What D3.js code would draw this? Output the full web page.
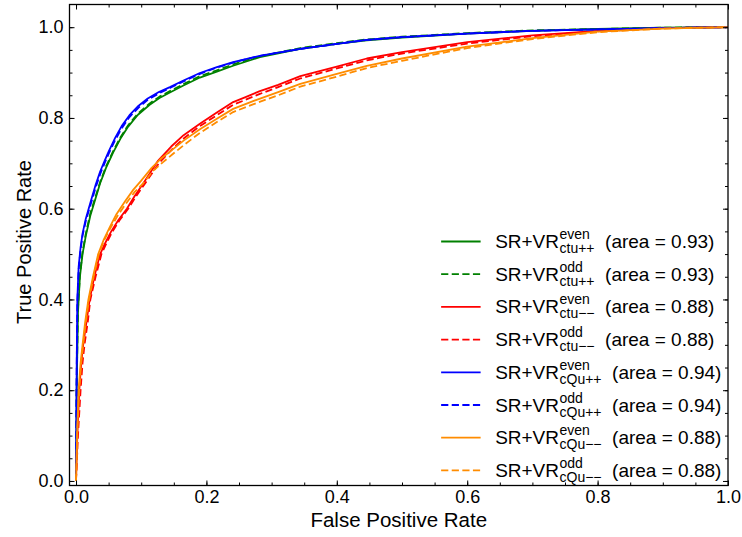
<!DOCTYPE html>
<html>
<head>
<meta charset="utf-8">
<script src="https://cdn.jsdelivr.net/npm/d3@7"></script>
<style>
  body { margin: 0; background: #fff; }
  text { font-family: "Liberation Sans", Arial, Helvetica, sans-serif; fill: #000; }
</style>
</head>
<body>
<svg id="chart" width="742" height="537"></svg>
<script>
// ROC curves, [fpr, tpr] pairs
const ctuPPEven = [[0,0],[0.001,0.2],[0.003,0.37],[0.006,0.45],[0.01,0.5],[0.015,0.54],[0.022,0.585],[0.029,0.618],[0.037,0.656],[0.046,0.69],[0.057,0.724],[0.068,0.754],[0.08,0.781],[0.095,0.807],[0.113,0.829],[0.128,0.844],[0.144,0.856],[0.164,0.871],[0.19,0.889],[0.216,0.902],[0.241,0.915],[0.282,0.934],[0.344,0.952],[0.4,0.963],[0.446,0.971],[0.5,0.977],[0.6,0.986],[0.7,0.992],[0.8,0.996],[0.9,0.999],[1,1]];
const ctuPPOdd  = [[0,0],[0.001,0.21],[0.003,0.38],[0.006,0.455],[0.01,0.505],[0.015,0.545],[0.022,0.59],[0.029,0.622],[0.037,0.659],[0.046,0.693],[0.057,0.727],[0.068,0.757],[0.08,0.784],[0.095,0.81],[0.113,0.832],[0.128,0.847],[0.144,0.859],[0.164,0.874],[0.19,0.892],[0.216,0.905],[0.241,0.918],[0.282,0.936],[0.344,0.954],[0.4,0.965],[0.446,0.973],[0.5,0.979],[0.6,0.987],[0.7,0.993],[0.8,0.996],[0.9,0.999],[1,1]];
const ctuMMEven = [[0,0],[0.002,0.1],[0.005,0.2],[0.008,0.26],[0.011,0.3],[0.016,0.35],[0.021,0.4],[0.028,0.45],[0.037,0.5],[0.045,0.525],[0.054,0.55],[0.065,0.575],[0.078,0.6],[0.09,0.628],[0.105,0.66],[0.126,0.706],[0.146,0.737],[0.165,0.762],[0.19,0.787],[0.216,0.812],[0.241,0.835],[0.26,0.846],[0.282,0.859],[0.31,0.873],[0.344,0.892],[0.4,0.913],[0.446,0.931],[0.5,0.945],[0.6,0.967],[0.7,0.982],[0.8,0.992],[0.9,0.998],[1,1]];
const ctuMMOdd  = [[0,0],[0.003,0.1],[0.007,0.2],[0.01,0.26],[0.013,0.3],[0.018,0.35],[0.022,0.4],[0.03,0.45],[0.039,0.5],[0.047,0.525],[0.056,0.55],[0.067,0.575],[0.08,0.6],[0.092,0.627],[0.107,0.658],[0.128,0.702],[0.148,0.732],[0.167,0.757],[0.19,0.782],[0.216,0.806],[0.241,0.829],[0.26,0.84],[0.282,0.853],[0.31,0.868],[0.344,0.887],[0.4,0.909],[0.446,0.927],[0.5,0.942],[0.6,0.964],[0.7,0.98],[0.8,0.991],[0.9,0.998],[1,1]];
const cQuPPEven = [[0,0],[0.001,0.25],[0.002,0.4],[0.004,0.472],[0.007,0.515],[0.01,0.545],[0.015,0.578],[0.023,0.618],[0.03,0.652],[0.037,0.682],[0.044,0.706],[0.05,0.726],[0.06,0.756],[0.07,0.782],[0.082,0.806],[0.096,0.827],[0.11,0.843],[0.127,0.857],[0.144,0.868],[0.164,0.882],[0.19,0.899],[0.216,0.912],[0.241,0.923],[0.282,0.937],[0.344,0.952],[0.4,0.963],[0.446,0.972],[0.5,0.978],[0.6,0.986],[0.7,0.992],[0.8,0.995],[0.9,0.998],[1,1]];
const cQuPPOdd  = [[0,0],[0.001,0.24],[0.002,0.39],[0.004,0.465],[0.007,0.51],[0.01,0.54],[0.015,0.573],[0.023,0.612],[0.03,0.646],[0.037,0.676],[0.044,0.701],[0.05,0.721],[0.06,0.751],[0.07,0.777],[0.082,0.802],[0.096,0.823],[0.11,0.84],[0.127,0.854],[0.144,0.866],[0.164,0.88],[0.19,0.897],[0.216,0.911],[0.241,0.922],[0.282,0.937],[0.344,0.952],[0.4,0.963],[0.446,0.972],[0.5,0.978],[0.6,0.986],[0.7,0.992],[0.8,0.995],[0.9,0.998],[1,1]];
const cQuMMEven = [[0,0],[0.002,0.12],[0.004,0.2],[0.007,0.26],[0.01,0.3],[0.014,0.35],[0.019,0.4],[0.026,0.45],[0.034,0.5],[0.042,0.53],[0.052,0.56],[0.062,0.588],[0.075,0.616],[0.088,0.642],[0.1,0.662],[0.116,0.69],[0.13,0.71],[0.146,0.728],[0.165,0.75],[0.19,0.775],[0.216,0.798],[0.241,0.82],[0.277,0.84],[0.31,0.857],[0.344,0.875],[0.4,0.897],[0.446,0.915],[0.5,0.931],[0.6,0.957],[0.7,0.976],[0.8,0.99],[0.9,0.997],[1,1]];
const cQuMMOdd  = [[0,0],[0.002,0.11],[0.005,0.2],[0.008,0.26],[0.011,0.3],[0.015,0.35],[0.02,0.4],[0.027,0.45],[0.035,0.5],[0.043,0.53],[0.053,0.558],[0.064,0.585],[0.077,0.612],[0.09,0.637],[0.103,0.656],[0.118,0.683],[0.133,0.702],[0.148,0.72],[0.167,0.742],[0.19,0.767],[0.216,0.791],[0.241,0.813],[0.277,0.833],[0.31,0.85],[0.344,0.869],[0.4,0.891],[0.446,0.91],[0.5,0.926],[0.6,0.954],[0.7,0.974],[0.8,0.989],[0.9,0.997],[1,1]];

const seriesData = [ctuPPEven, ctuPPOdd, ctuMMEven, ctuMMOdd, cQuPPEven, cQuPPOdd, cQuMMEven, cQuMMOdd];
const seriesColors = ['#008000', '#008000', '#ff0000', '#ff0000', '#0000ff', '#0000ff', '#ff8c00', '#ff8c00'];
const seriesDashed = [false, true, false, true, false, true, false, true];
const seriesSup = ['even', 'odd', 'even', 'odd', 'even', 'odd', 'even', 'odd'];
const seriesSub = ['ctu++', 'ctu++', 'ctu\u2212\u2212', 'ctu\u2212\u2212', 'cQu++', 'cQu++', 'cQu\u2212\u2212', 'cQu\u2212\u2212'];
const seriesArea = ['0.93', '0.93', '0.88', '0.88', '0.94', '0.94', '0.88', '0.88'];

const xTicks = [0.0, 0.2, 0.4, 0.6, 0.8, 1.0];
const yTicks = [0.0, 0.2, 0.4, 0.6, 0.8, 1.0];

const svg = d3.select('#chart');
const margin = { left: 69.5, right: 14, top: 4.5, bottom: 51.5 };
const width = 742 - margin.left - margin.right;
const height = 537 - margin.top - margin.bottom;

const g = svg.append('g').attr('transform', `translate(${margin.left},${margin.top})`);

const x = d3.scaleLinear().domain([-0.01, 1.0]).range([0, width]);
const y = d3.scaleLinear().domain([-0.01, 1.05]).range([height, 0]);

g.append('clipPath').attr('id', 'clip')
    .append('rect').attr('width', width).attr('height', height);

// curves
const line = d3.line().x(d => x(d[0])).y(d => y(d[1]));
const curves = g.append('g').attr('clip-path', 'url(#clip)');
seriesData.forEach((data, i) => {
    curves.append('path')
        .datum(data)
        .attr('d', line)
        .style('fill', 'none')
        .style('stroke', seriesColors[i])
        .style('stroke-width', 1.8)
        .style('stroke-linejoin', 'round')
        .style('stroke-dasharray', seriesDashed[i] ? '7.2,3.4' : null);
});

// axes: ticks inward on all four sides
const minorX = d3.range(0, 1.0001, 0.05);
const minorY = d3.range(0, 1.0001, 0.05);
function styleAxis(sel) {
    sel.select('.domain').remove();
    sel.selectAll('line').style('stroke', '#000').style('stroke-width', 1);
    sel.selectAll('text').style('font-size', '18px').style('font-family', '"Liberation Sans", Arial, sans-serif');
}
const fmt = d3.format('.1f');
g.append('g').attr('transform', `translate(0,${height})`)
    .call(d3.axisBottom(x).tickValues(minorX).tickSize(-3).tickFormat(''))
    .call(styleAxis);
g.append('g').attr('transform', `translate(0,${height})`)
    .call(d3.axisBottom(x).tickValues(xTicks).tickSize(-5).tickPadding(5).tickFormat(fmt))
    .call(styleAxis);
g.append('g')
    .call(d3.axisTop(x).tickValues(minorX).tickSize(-3).tickFormat(''))
    .call(styleAxis);
g.append('g')
    .call(d3.axisTop(x).tickValues(xTicks).tickSize(-5).tickFormat(''))
    .call(styleAxis);
g.append('g')
    .call(d3.axisLeft(y).tickValues(minorY).tickSize(-3).tickFormat(''))
    .call(styleAxis);
g.append('g')
    .call(d3.axisLeft(y).tickValues(yTicks).tickSize(-5).tickPadding(6).tickFormat(fmt))
    .call(styleAxis);
g.append('g').attr('transform', `translate(${width},0)`)
    .call(d3.axisRight(y).tickValues(minorY).tickSize(-3).tickFormat(''))
    .call(styleAxis);
g.append('g').attr('transform', `translate(${width},0)`)
    .call(d3.axisRight(y).tickValues(yTicks).tickSize(-5).tickFormat(''))
    .call(styleAxis);

// frame
g.append('rect')
    .attr('width', width).attr('height', height)
    .style('fill', 'none').style('stroke', '#000').style('stroke-width', 1.3);

// axis labels
g.append('text')
    .attr('x', width / 2).attr('y', height + 41)
    .style('text-anchor', 'middle').style('font-size', '20.5px')
    .text('False Positive Rate');
g.append('text')
    .attr('transform', `translate(-39,${height / 2 - 3}) rotate(-90)`)
    .style('text-anchor', 'middle').style('font-size', '20px')
    .text('True Positive Rate');

// legend: each label is one text with super/subscript tspans
const legend = g.append('g').attr('transform', `translate(${x(0.56)},0)`);
const rowY0 = 237, rowStep = 32.7;
seriesData.forEach((d, i) => {
    const cy = rowY0 + i * rowStep;
    const row = legend.append('g').attr('transform', `translate(0,${cy})`);
    row.append('line')
        .attr('x1', 0).attr('x2', 39.5).attr('y1', 0).attr('y2', 0)
        .style('stroke', seriesColors[i]).style('stroke-width', 1.8)
        .style('stroke-dasharray', seriesDashed[i] ? '7.2,3.4' : null);

    const label = row.append('text').attr('x', 54).attr('y', 6.5).style('font-size', '19px');
    const main = label.append('tspan').text('SR+VR');
    const mx = 54 + main.node().getComputedTextLength() + 0.5;
    const sup = label.append('tspan').attr('x', mx).attr('y', -2.5)
        .style('font-size', '14px').text(seriesSup[i]);
    const sub = label.append('tspan').attr('x', mx).attr('y', 11.5)
        .style('font-size', '14px').text(seriesSub[i]);
    const ex = mx + Math.max(sup.node().getComputedTextLength(), sub.node().getComputedTextLength()) + 10.5;
    label.append('tspan').attr('x', ex).attr('y', 6.5)
        .text(`(area = ${seriesArea[i]})`);
});
</script>
</body>
</html>
